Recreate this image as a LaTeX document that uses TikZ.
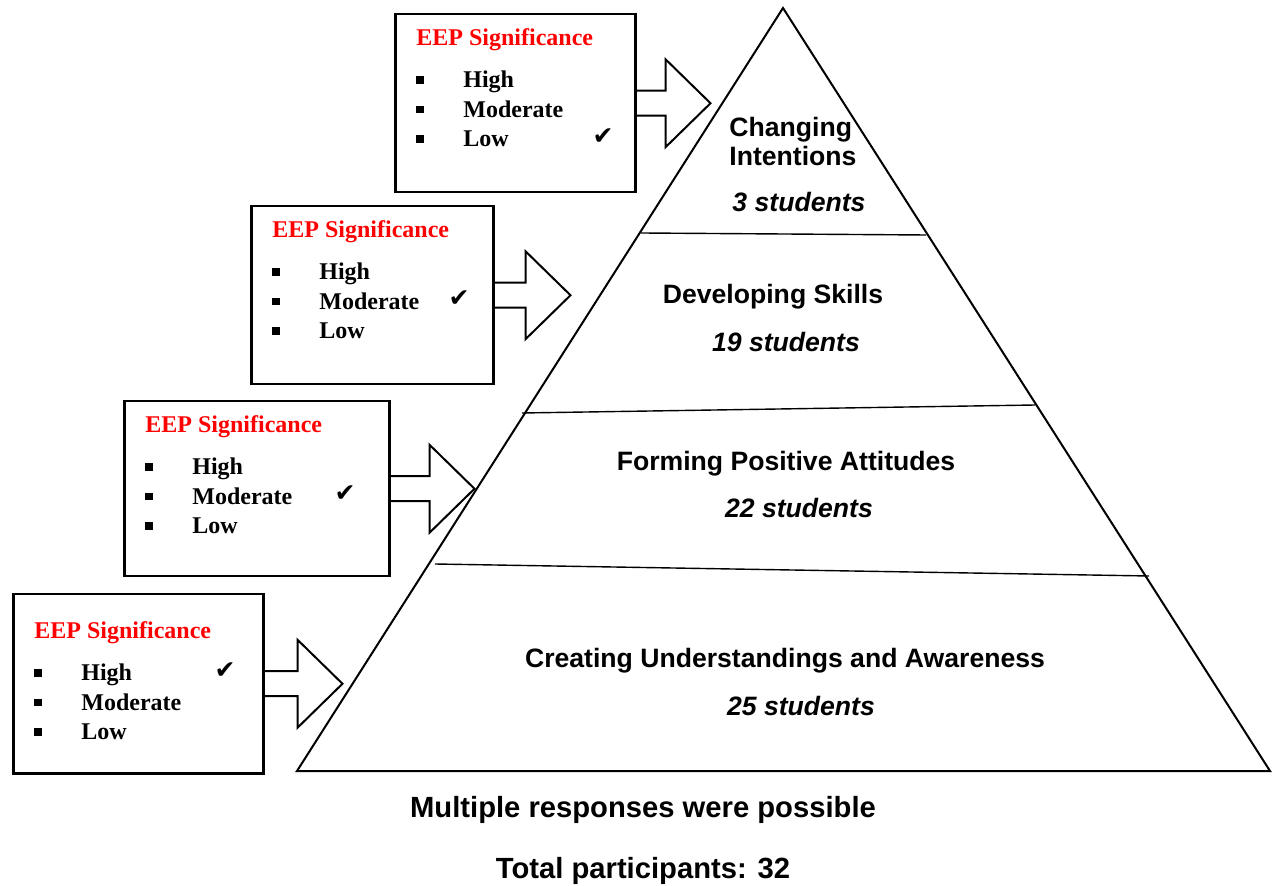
\documentclass[tikz,border=0pt]{standalone}
\usepackage{fontspec}
\setmainfont{Liberation Serif}
\setsansfont{Liberation Sans}
\newfontfamily\symfont{DejaVu Sans}
\usetikzlibrary{positioning}

\tikzset{
    sigbox/.style={draw, line width=1.25pt, inner sep=0pt},
    sigtitle/.style={anchor=base west, inner sep=0pt, text=red, font=\fontsize{12}{14}\selectfont\bfseries},
    sigitem/.style={anchor=base west, inner sep=0pt, font=\fontsize{12}{14}\selectfont\bfseries},
    bul/.style={fill, inner sep=0pt, minimum size=3.8pt},
    tick/.style={inner sep=0pt, font=\symfont\fontsize{12.5}{14}\selectfont},
    blockarrow/.style={line width=1pt, line join=miter},
    layer/.style={inner sep=0pt, font=\sffamily\bfseries\fontsize{13.3}{14.5}\selectfont},
    count/.style={inner sep=0pt, font=\sffamily\bfseries\itshape\fontsize{13.3}{15}\selectfont},
    note/.style={inner sep=0pt, font=\sffamily\bfseries\fontsize{14.6}{17}\selectfont}
}

\begin{document}
\begin{tikzpicture}[x=0.5pt, y=-0.5pt]
        \useasboundingbox (0,0) rectangle (1274,886);

        % pyramid
        \coordinate (apex) at (783,8);
        \coordinate (bl) at (297,771);
        \coordinate (br) at (1270,771);
        \draw[line width=1pt, line join=miter] (apex) -- (bl) -- (br) -- cycle;
        \draw[line width=0.7pt] (641,233) -- (926,235);
        \draw[line width=0.7pt] (522,413) -- (1035,405);
        \draw[line width=0.7pt] (435,564) -- (1149,576);

        % layer texts
        \node[layer, align=left, anchor=west] (l4) at (729,141) {Changing\\Intentions};
        \node[count] (c4) at (799,202) {3 students};
        \node[layer] (l3) at (773,297) {Developing Skills};
        \node[count] (c3) at (786,342) {19 students};
        \node[layer] (l2) at (786,464) {Forming Positive Attitudes};
        \node[count] (c2) at (799,508) {22 students};
        \node[layer] (l1) at (785,661) {Creating Understandings and Awareness};
        \node[count] (c1) at (801,706) {25 students};

        % significance boxes with arrows
        \foreach \n/\x/\y/\w/\h/\dy/\sl/\cx/\cr in {1/394/13/240/178/0/29/209/3, 2/250/205/242/178/0/31/209/2, 3/123/400/265/175/0/39/222/2, 4/12/593/250/179/13/33/213/1} {
            \node[sigbox, anchor=north west, minimum width=\w*0.5pt, minimum height=\h*0.5pt] (box\n) at (\x,\y) {};
            \node[sigtitle] (title\n) at (\x+22,\y+33+\dy) {EEP Significance};
            \foreach \it [count=\i] in {High,Moderate,Low} {
                \node[bul] (bul\n\i) at (\x+26,\y+\dy+37.5+29.5*\i) {};
                \node[sigitem] (item\n\i) at (\x+69,\y+\dy+45.5+29.5*\i) {\it};
            }
            \node[tick] (tick\n) at (\x+\cx,\y+\dy+35+29.5*\cr) {✔};
            \draw[blockarrow] (box\n.east) ++(0,-12.5) -- ++(\sl,0) -- ++(0,-31.5) -- ++(45,44) -- ++(-45,44) -- ++(0,-31.5) -- ++(-\sl,0);
        }

        % notes
        \node[note] (multi) at (643,810) {Multiple responses were possible};
        \node[note] (total) at (643,871) {Total participants: 32};
    \end{tikzpicture}
\end{document}
